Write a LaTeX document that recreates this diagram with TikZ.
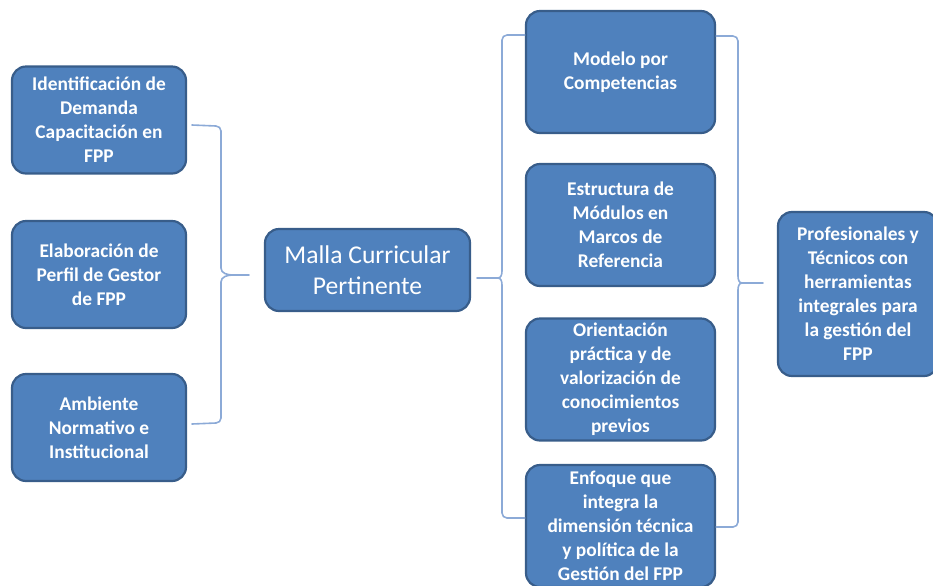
\documentclass[tikz,border=0pt]{standalone}
\usepackage{fontspec}
\setmainfont{Carlito}
\definecolor{cajaazul}{RGB}{79,129,189}
\definecolor{bordeazul}{RGB}{56,93,138}
\definecolor{llaveazul}{RGB}{140,170,215}
\tikzset{
  caja/.style={draw=bordeazul,line width=1.1pt,fill=cajaazul,rounded corners=7pt,text=white,
    font=\bfseries\fontsize{9.7}{12}\selectfont,align=center,inner sep=1pt},
  cajaizq/.style={caja,minimum width=87pt,minimum height=53.5pt},
  cajamed/.style={caja,minimum width=94.5pt,minimum height=61pt},
  llave/.style={draw=llaveazul,line width=0.8pt,line join=round,line cap=round},
}
\begin{document}
\begin{tikzpicture}[x=0.5pt,y=-0.5pt]
\useasboundingbox (0,0) rectangle (933,585);
\clip (0,0) rectangle (933,585);
% columna izquierda
\node[cajaizq] (ident) at (99,120) {Identificación de\\Demanda\\Capacitación en\\FPP};
\node[cajaizq] (perfil) at (99,274.5) {Elaboración de\\Perfil de Gestor\\de FPP};
\node[cajaizq] (ambiente) at (99,427.5) {Ambiente\\Normativo e\\Institucional};
% centro
\node[caja,minimum width=102.5pt,minimum height=41pt,font=\fontsize{12.8}{15.5}\selectfont] (malla) at (367.5,270) {Malla Curricular\\Pertinente};
% columna de componentes
\node[cajamed] (modelo) at (620.5,72) {Modelo por\\Competencias};
\node[cajamed] (estructura) at (620.5,225) {Estructura de\\Módulos en\\Marcos de\\Referencia};
\node[cajamed] (orient) at (620.5,379.5) {Orientación\\práctica y de\\valorización de\\conocimientos\\previos};
\node[cajamed] (enfoque) at (620.5,526) {Enfoque que\\integra la\\dimensión técnica\\y política de la\\Gestión del FPP};
% resultado
\node[caja,minimum width=80pt,minimum height=82pt] (prof) at (858,294) {Profesionales y\\Técnicos con\\herramientas\\integrales para\\la gestión del\\FPP};
% llave izquierda
\coordinate (pa) at (233,275);
\coordinate (pb) at (498,278);
\coordinate (pc) at (742,283);
\draw[llave] (192,125) -- (216,126) to[out=0,in=90] (221,131) -- (221,268) to[out=-90,in=180] (pa)
  to[out=180,in=90] (221,282) -- (221,418) to[out=-90,in=0] (216,423) -- (192,424);
\draw[llave] (pa) -- ++(16,0);
% llave del centro
\draw[llave] (modelo.west|-0,35) -- (507,35) to[out=180,in=90] (502,40) -- (502,271) to[out=-90,in=0] (pb)
  to[out=0,in=90] (502,285) -- (502,513) to[out=-90,in=180] (507,518) -- (enfoque.west|-0,518);
\draw[llave] (pb) -- ++(-21,0);
% llave derecha
\draw[llave] (modelo.east|-0,36) -- (733,36) to[out=0,in=90] (738,41) -- (738,276) to[out=-90,in=180] (pc)
  to[out=180,in=90] (738,290) -- (738,522) to[out=-90,in=0] (733,527) -- (enfoque.east|-0,527);
\draw[llave] (pc) -- ++(21,0);
\end{tikzpicture}
\end{document}
